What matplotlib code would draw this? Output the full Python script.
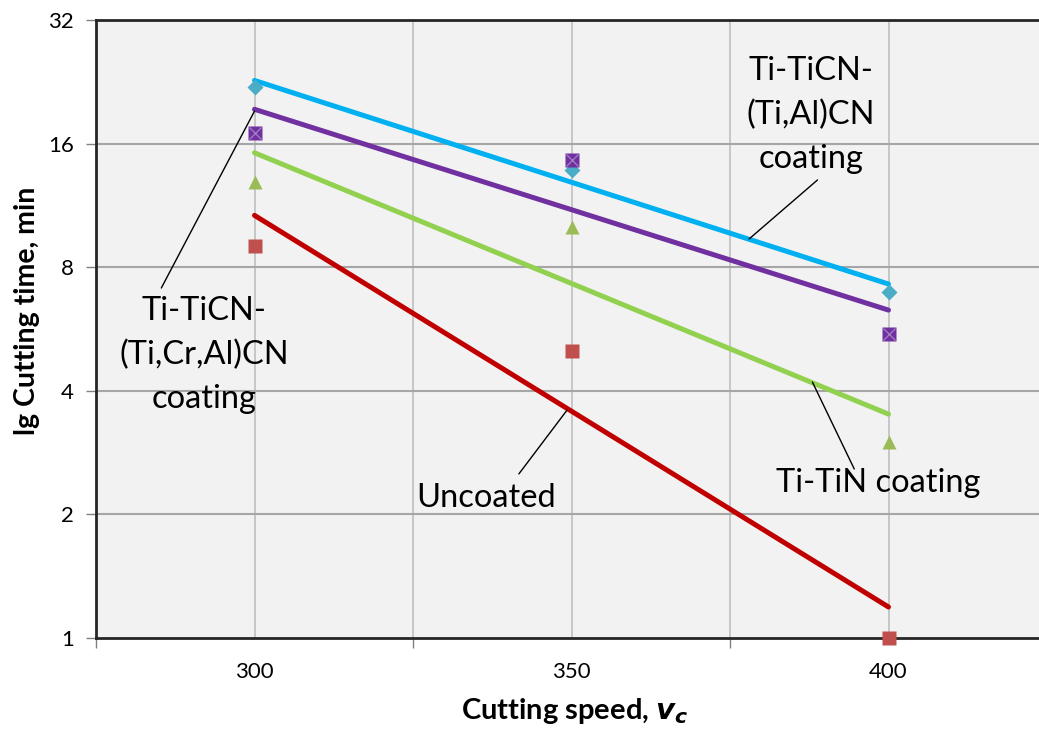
import matplotlib
matplotlib.use("Agg")
import matplotlib.pyplot as plt

plt.rcParams['font.family'] = ['Lato', 'DejaVu Sans']

# cutting speeds and measured cutting times (min)
speeds = [300, 350, 400]
t_ticraln = [22.0, 13.8, 6.97]     # Ti-TiCN-(Ti,Al)CN
t_ticrcraln = [17.0, 14.6, 5.5]    # Ti-TiCN-(Ti,Cr,Al)CN
t_titin = [12.9, 10.0, 3.0]        # Ti-TiN
t_uncoated = [9.0, 5.0, 1.0]       # Uncoated

# exponential trend lines (values at 300 and 400)
trend_x = [300, 400]
trend_ticraln = [22.8, 7.28]
trend_ticrcraln = [19.4, 6.29]
trend_titin = [15.2, 3.51]
trend_uncoated = [10.7, 1.19]

y_ticks = [1, 2, 4, 8, 16, 32]
x_grid = [300, 325, 350, 375, 400]
x_labels = [300, 350, 400]
x_marks = [275, 325, 375, 425]

fig = plt.figure(figsize=(10.39, 7.31), dpi=100)
ax = fig.add_axes([0.0924, 0.1272, 0.9153, 0.8454])
ax.set_facecolor('#F2F2F2')

# trend lines
ax.plot(trend_x, trend_ticraln, color='#00B0F0', lw=3.6, solid_capstyle='round', zorder=3)
ax.plot(trend_x, trend_ticrcraln, color='#7030A0', lw=3.6, solid_capstyle='round', zorder=3)
ax.plot(trend_x, trend_titin, color='#92D050', lw=3.6, solid_capstyle='round', zorder=3)
ax.plot(trend_x, trend_uncoated, color='#C00000', lw=3.6, solid_capstyle='round', zorder=3)

# data markers
ax.plot(speeds, t_ticraln, 'D', color='#4BACC6', ms=8, mec='none', zorder=4, clip_on=False)
ax.plot(speeds, t_ticrcraln, 's', color='#7030A0', ms=9.5, mec='none', zorder=4, clip_on=False)
ax.plot(speeds, t_ticrcraln, 'x', color='#9E7BC2', ms=8, mew=1, zorder=5, clip_on=False)
ax.plot(speeds, t_titin, '^', color='#9BBB59', ms=10, mec='none', zorder=4, clip_on=False)
ax.plot(speeds, t_uncoated, 's', color='#C0504D', ms=9.5, mec='none', zorder=4, clip_on=False)

ax.set_yscale('log', base=2)
ax.set_ylim(1, 32)
ax.set_xlim(275, 425)
ax.set_yticks(y_ticks)
ax.set_yticklabels([str(v) for v in y_ticks])
ax.minorticks_off()

# gridlines
for v in x_grid:
    ax.axvline(v, color='#BFBFBF', lw=1.2, zorder=1)
for v in y_ticks[1:-1]:
    ax.axhline(v, color='#A6A6A6', lw=1.5, zorder=1)

ax.set_xticks(x_marks)
ax.set_xticklabels(['' for v in x_marks])
ax.tick_params(axis='x', direction='out', length=7, width=1, color='#808080')
ax.tick_params(axis='y', direction='out', length=7, width=1, color='#808080',
               labelsize=16, pad=9)
for v in x_labels:
    ax.text(v, -0.055, str(v), transform=ax.get_xaxis_transform(), ha='center',
            va='center', fontsize=16)

for side in ['left', 'bottom', 'top']:
    ax.spines[side].set_color('#262626')
    ax.spines[side].set_linewidth(2)
ax.spines['right'].set_visible(False)

fig.text(0.026, 0.575, 'lg Cutting time, min', rotation=90, ha='center', va='center',
         fontsize=20.5, fontweight='bold')
fig.text(0.553, 0.027, r'Cutting speed, $\mathbfit{v}_{\mathbfit{c}}$', ha='center', va='center',
         fontsize=21, fontweight='bold')

# labels with leader lines
lead = dict(arrowstyle='-', color='black', lw=1, shrinkA=0, shrinkB=0)
ax.annotate('', xy=(378.0, 9.37), xytext=(388.8, 13.05), arrowprops=lead, zorder=6)
ax.text(387.8, 18.8, 'Ti-TiCN-\n(Ti,Al)CN\ncoating', ha='center', va='center',
        fontsize=23.5, linespacing=1.58)

ax.annotate('', xy=(300, 19.2), xytext=(285.3, 7.12), arrowprops=lead, zorder=6)
ax.text(292.1, 4.89, 'Ti-TiCN-\n(Ti,Cr,Al)CN\ncoating', ha='center', va='center',
        fontsize=23.5, linespacing=1.58)

ax.annotate('', xy=(349.3, 3.59), xytext=(341.7, 2.51), arrowprops=lead, zorder=6)
ax.text(336.5, 2.19, 'Uncoated', ha='center', va='center', fontsize=23.5)

ax.annotate('', xy=(388.0, 4.20), xytext=(394.6, 2.58), arrowprops=lead, zorder=6)
ax.text(398.4, 2.39, 'Ti-TiN coating', ha='center', va='center', fontsize=23.5)

fig.savefig('out.png', dpi=100)
